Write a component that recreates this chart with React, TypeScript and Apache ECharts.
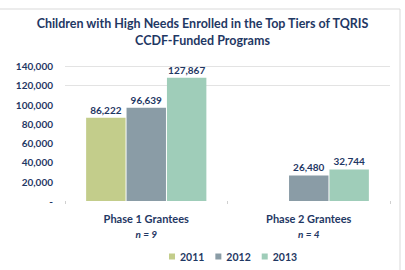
import React, { useEffect, useRef } from "react";
import * as echarts from "echarts";

const categories = ["Phase 1 Grantees", "Phase 2 Grantees"];
const sampleSizes = ["n = 9", "n = 4"];
const series2011 = [86222, null];
const series2012 = [96639, 26480];
const series2013 = [127867, 32744];
const seriesNames = ["2011", "2012", "2013"];
const yTicks = [0, 20000, 40000, 60000, 80000, 100000, 120000, 140000];

const NAVY = "#1f3864";
const FONT = "Lato, 'Open Sans', sans-serif";
const COLORS = ["#c3cd8b", "#8a9ca6", "#9fcdb9"];

export default function App() {
  const ref = useRef<HTMLDivElement>(null);
  useEffect(() => {
    if (!ref.current) return;
    const chart = echarts.init(ref.current, null, { renderer: "svg" });
    const label = {
      show: true,
      position: "top" as const,
      distance: 3,
      color: NAVY,
      fontFamily: FONT,
      fontWeight: "bold" as const,
      fontSize: 10,
      formatter: (p: any) => (p.value == null ? "" : Number(p.value).toLocaleString("en-US")),
    };
    const splitColors = yTicks.map((v) => (v >= 120000 ? "#e3e3e3" : "rgba(0,0,0,0)"));
    chart.setOption({
      animation: false,
      color: COLORS,
      graphic: [
        {
          type: "rect",
          shape: { x: -2, y: 9, width: 402, height: 265 },
          style: { fill: "none", stroke: "#d9d9d9", lineWidth: 1 },
          silent: true,
        },
      ],
      title: {
        text: "Children with High Needs Enrolled in the Top Tiers of TQRIS\nCCDF-Funded Programs",
        left: "center",
        top: 10,
        textStyle: {
          color: NAVY,
          fontFamily: FONT,
          fontWeight: "bold",
          fontSize: 12.5,
          lineHeight: 17,
        },
      },
      legend: {
        data: seriesNames,
        left: 164,
        top: 246,
        itemWidth: 6,
        itemHeight: 6,
        itemGap: 11,
        icon: "rect",
        textStyle: { color: NAVY, fontFamily: FONT, fontWeight: "bold", fontSize: 10.5 },
      },
      grid: { left: 65, right: 15, top: 66, bottom: 69 },
      xAxis: {
        type: "category",
        data: categories,
        axisLine: { show: false },
        axisTick: { show: true, length: 3, lineStyle: { color: "#d0d0d0" } },
        axisLabel: {
          margin: 9,
          formatter: (v: string, i: number) => `{a|${v}}\n{b|${sampleSizes[i]}}`,
          rich: {
            a: { color: NAVY, fontFamily: FONT, fontWeight: "bold", fontSize: 11, lineHeight: 16 },
            b: { color: NAVY, fontFamily: FONT, fontWeight: "bold", fontStyle: "italic", fontSize: 10, lineHeight: 16 },
          },
        },
      },
      yAxis: {
        type: "value",
        min: 0,
        max: 140000,
        interval: 20000,
        axisLine: { show: false },
        axisTick: { show: false },
        axisLabel: {
          margin: 12,
          color: NAVY,
          fontFamily: FONT,
          fontWeight: "bold",
          fontSize: 10,
          formatter: (v: number) => (v === 0 ? "-" : v.toLocaleString("en-US")),
        },
        splitLine: { show: true, lineStyle: { color: splitColors, width: 1 } },
      },
      series: [
        { name: seriesNames[0], type: "bar", data: series2011, label, barGap: "2.5%", barCategoryGap: "26%" },
        { name: seriesNames[1], type: "bar", data: series2012, label, barGap: "2.5%", barCategoryGap: "26%" },
        { name: seriesNames[2], type: "bar", data: series2013, label, barGap: "2.5%", barCategoryGap: "26%" },
      ],
    });
    return () => chart.dispose();
  }, []);
  return <div ref={ref} style={{ width: 405, height: 270, position: "fixed", left: 0, top: 0, background: "#fff" }} />;
}
